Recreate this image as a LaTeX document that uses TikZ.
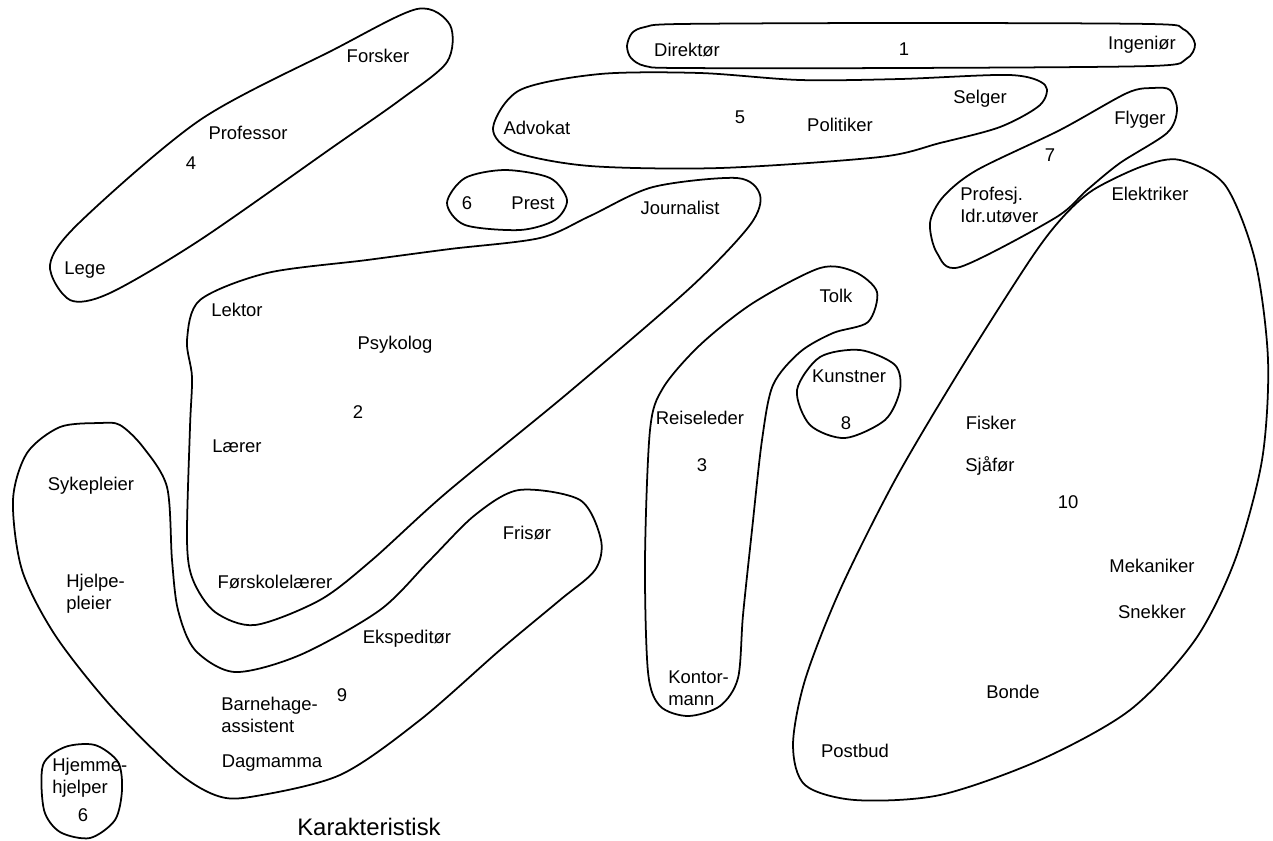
\documentclass[tikz,border=0pt]{standalone}
\usepackage{fontspec}
\setmainfont{Liberation Sans}
\tikzset{
  blob/.style={draw, line width=1pt, line join=round},
  job/.style={font=\fontsize{10.5}{12.5}\selectfont, align=left, inner sep=0pt},
  nr/.style={font=\fontsize{10.5}{12.5}\selectfont, inner sep=0pt}
}
\begin{document}
\begin{tikzpicture}[x=0.02cm, y=-0.02cm]
                \useasboundingbox (0,0) rectangle (1273,840);
                \draw[blob] plot[smooth cycle] coordinates {(417,9) (450,25) (447,62) (400,100) (333,147) (200,240) (110,293) (70,300) (50,265) (80,222) (200,120) (333,50)};
                \draw[blob] plot[smooth cycle] coordinates {(627,46) (632,33) (645,27) (680,24) (900,23) (1150,24) (1183,29) (1195,44) (1186,59) (1150,66) (900,68) (680,68) (645,66) (631,58)};
                \draw[blob] plot[smooth cycle] coordinates {(493,128) (520,90) (600,74) (700,73) (800,80) (900,79) (1010,75) (1045,85) (1040,105) (1000,127) (940,143) (880,157) (720,168) (590,166) (515,152)};
                \draw[blob] plot[smooth cycle] coordinates {(447,203) (465,178) (505,170) (550,178) (567,200) (555,220) (520,230) (465,225)};
                \draw[blob] plot[smooth cycle] coordinates {(1170,90) (1177,110) (1167,133) (1120,163) (1087,190) (1055,218) (960,267) (937,253) (930,223) (943,197) (977,170) (1060,130) (1127,93) (1153,88)};
                \draw[blob] plot[smooth cycle] coordinates {(737,178) (760,195) (750,225) (691,287) (568,393) (446,493) (372,560) (320,600) (255,625) (215,612) (193,580) (187,540) (190,427) (192,377) (187,340) (200,300) (267,273) (367,260) (450,249) (540,238) (590,216) (653,187)};
                \draw[blob] plot[smooth cycle] coordinates {(820,268) (855,272) (877,292) (868,322) (833,333) (800,352) (773,385) (762,440) (752,530) (743,615) (738,678) (720,706) (688,716) (660,706) (648,672) (645,560) (650,430) (663,388) (700,345) (753,303)};
                \draw[blob] plot[smooth cycle] coordinates {(797,390) (820,357) (860,350) (895,365) (900,390) (885,420) (845,438) (810,425)};
                \draw[blob] plot[smooth cycle] coordinates {(1180,160) (1225,185) (1255,260) (1268,360) (1262,460) (1235,560) (1195,640) (1130,710) (1040,760) (940,795) (855,800) (805,785) (793,745) (805,680) (840,590) (895,480) (960,370) (1030,260) (1062,218) (1093,190) (1143,166)};
                \draw[blob] plot[smooth cycle] coordinates {(100,423) (120,425) (143,447) (167,487) (172,560) (178,610) (195,650) (235,672) (300,655) (380,610) (430,560) (475,515) (519,490) (580,500) (601,540) (595,570) (560,600) (500,650) (420,720) (340,775) (250,797) (215,795) (175,770) (110,705) (55,635) (22,570) (13,500) (27,453) (60,427)};
                \draw[blob] plot[smooth cycle] coordinates {(43,765) (65,747) (95,745) (118,762) (122,790) (115,820) (90,838) (60,832) (44,810)};
                \node[job] (forsker) at (378,56) {Forsker};
                \node[job] (professor) at (248,133) {Professor};
                \node[nr] (n4) at (191,163) {4};
                \node[job] (lege) at (85,270) {Lege};
                \node[job] (direktor) at (687,50) {Direktør};
                \node[nr] (n1) at (904,49) {1};
                \node[job] (ingenior) at (1142,45) {Ingeniør};
                \node[job] (advokat) at (537,128) {Advokat};
                \node[nr] (n5) at (740,117) {5};
                \node[job] (politiker) at (840,125) {Politiker};
                \node[job] (selger) at (980,99) {Selger};
                \node[job] (flyger) at (1140,120) {Flyger};
                \node[nr] (n7) at (1050,155) {7};
                \node[job, anchor=west] (idrett) at (960,205) {Profesj.\\Idr.utøver};
                \node[job] (elektriker) at (1150,194) {Elektriker};
                \node[nr] (n6a) at (467,203) {6};
                \node[job] (prest) at (533,203) {Prest};
                \node[job] (journalist) at (680,208) {Journalist};
                \node[job] (lektor) at (237,310) {Lektor};
                \node[job] (psykolog) at (395,345) {Psykolog};
                \node[nr] (n2) at (358,412) {2};
                \node[job] (laerer) at (237,446) {Lærer};
                \node[job] (tolk) at (836,296) {Tolk};
                \node[job] (kunstner) at (849,376) {Kunstner};
                \node[nr] (n8) at (846,423) {8};
                \node[job] (reiseleder) at (700,418) {Reiseleder};
                \node[nr] (n3) at (702,465) {3};
                \node[job] (fisker) at (991,423) {Fisker};
                \node[job] (sjafor) at (990,466) {Sjåfør};
                \node[nr] (n10) at (1068,502) {10};
                \node[job] (sykepleier) at (91,486) {Sykepleier};
                \node[job] (frisor) at (527,533) {Frisør};
                \node[job, anchor=west] (hjelpepleier) at (66,594) {Hjelpe-\\pleier};
                \node[job] (forskole) at (275,582) {Førskolelærer};
                \node[job] (mekaniker) at (1152,566) {Mekaniker};
                \node[job] (ekspeditor) at (407,639) {Ekspeditør};
                \node[job] (snekker) at (1152,612) {Snekker};
                \node[job, anchor=west] (kontormann) at (668,688) {Kontor-\\mann};
                \node[job, anchor=west] (barnehage) at (221,715) {Barnehage-\\assistent};
                \node[nr] (n9) at (342,695) {9};
                \node[job] (bonde) at (1013,692) {Bonde};
                \node[job] (dagmamma) at (272,763) {Dagmamma};
                \node[job] (postbud) at (855,751) {Postbud};
                \node[job, anchor=west] (hjemme) at (52,778) {Hjemme-\\hjelper};
                \node[nr] (n6b) at (83,815) {6};
                \node[font=\fontsize{13.6}{16}\selectfont, inner sep=0pt] (karakteristisk) at (369,827) {Karakteristisk};
            \end{tikzpicture}
\end{document}
